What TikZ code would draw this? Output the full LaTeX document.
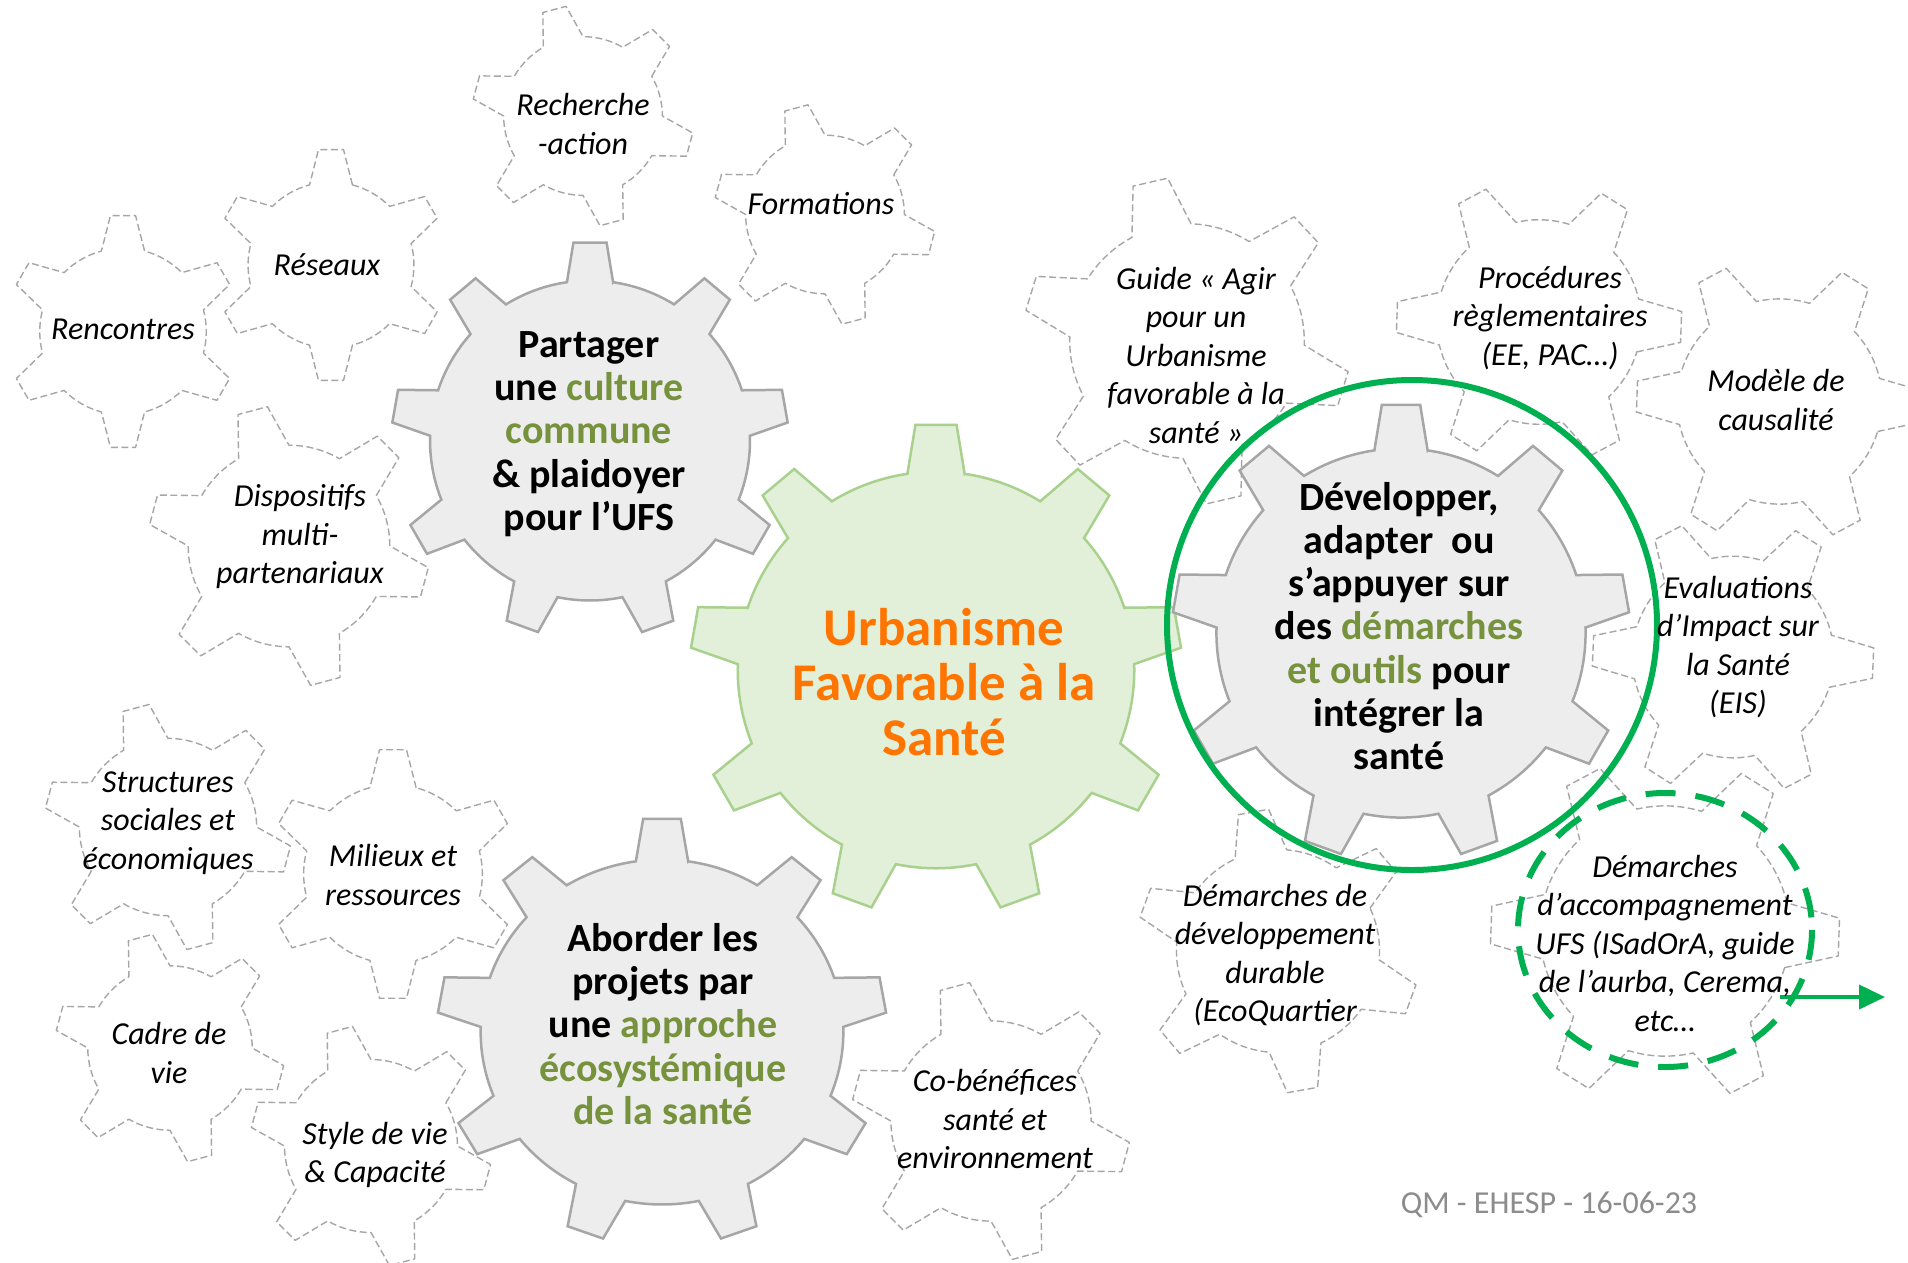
\documentclass[tikz,border=0pt]{standalone}
\usepackage{fontspec}
\setmainfont{Carlito}
\usetikzlibrary{arrows.meta}
\definecolor{olivetxt}{RGB}{118,146,60}
\definecolor{orangetxt}{RGB}{255,117,0}
\definecolor{gearfill}{RGB}{237,237,237}
\definecolor{gearline}{RGB}{166,166,166}
\definecolor{corefill}{RGB}{226,240,217}
\definecolor{coreline}{RGB}{169,209,142}
\definecolor{dashgray}{RGB}{166,166,166}
\definecolor{brightgreen}{RGB}{0,176,80}
\definecolor{footgray}{RGB}{140,140,140}
% gear with 9 teeth: cx cy rx ry rot style
\newcommand\gearnine[6]{%
  \begin{scope}[shift={(#1,#2)},xscale=#3,yscale=-#4]
    \draw[#6] ({#5-8.3}:0.806) \foreach \k in {0,...,8}{
      -- ({#5+40*\k-4.8}:1) -- ({#5+40*\k+4.8}:1) -- ({#5+40*\k+8.3}:0.806)
      arc[start angle={#5+40*\k+8.3}, end angle={#5+40*\k+31.7}, radius=0.806]} -- cycle;
  \end{scope}}
% gear with 6 teeth: cx cy r rot style
\newcommand\gearsix[5]{%
  \begin{scope}[shift={(#1,#2)},xscale=#3,yscale=-#3]
    \draw[#5] ({#4-15}:0.715) \foreach \k in {0,...,5}{
      -- ({#4+60*\k-6.2}:1) -- ({#4+60*\k+6.2}:1) -- ({#4+60*\k+15}:0.715)
      arc[start angle={#4+60*\k+15}, end angle={#4+60*\k+45}, radius=0.715]} -- cycle;
  \end{scope}}
\begin{document}
\begin{tikzpicture}[x=1pt,y=-1pt,
  dgear/.style={draw=dashgray, line width=1.4pt, dash pattern=on 7pt off 3.5pt, line join=round},
  ggear/.style={draw=gearline, fill=gearfill, line width=2.5pt, line join=miter},
  cgear/.style={draw=coreline, fill=corefill, line width=2.5pt, line join=miter},
  lab/.style={font=\fontsize{32}{38.5}\selectfont\itshape, align=center, inner sep=0pt, text=black},
  biglab/.style={font=\fontsize{40}{43.2}\selectfont\bfseries, align=center, inner sep=0pt, text=black},
  corelab/.style={font=\fontsize{53}{55}\selectfont\bfseries, align=center, inner sep=0pt, text=orangetxt},
  gcirc/.style={draw=brightgreen, line width=6pt},
  gdash/.style={draw=brightgreen, line width=6pt, dash pattern=on 30pt off 20pt},
  garrow/.style={draw=brightgreen, line width=4pt, -{Triangle[length=26pt,width=24pt]}}
]
\useasboundingbox (0,0) rectangle (1908,1262);
\fill[white] (0,0) rectangle (1908,1262);

% dashed gears
\gearsix{123}{331.5}{116.5}{90}{dgear}
\gearsix{331}{265}{116}{90}{dgear}
\gearsix{583}{116}{111}{45}{dgear}
\gearsix{825}{214.5}{111}{45}{dgear}
\gearsix{289}{546}{141}{45}{dgear}
\gearsix{168}{827}{124}{45}{dgear}
\gearsix{393}{874}{125}{90}{dgear}
\gearsix{170}{1048}{115}{45}{dgear}
\gearsix{371}{1146}{121}{45}{dgear}
\gearsix{991}{1121}{140}{45}{dgear}
\gearsix{1187}{341}{164}{43}{dgear}
\gearsix{1539}{322}{143}{-2}{dgear}
\gearsix{1779.5}{401.5}{143.5}{-2}{dgear}
\gearsix{1733}{657}{141}{-2.5}{dgear}
\gearsix{1665}{931}{175}{-2}{dgear}
\gearsix{1278}{951}{142}{40}{dgear}

% solid gears
\gearnine{936}{670}{246}{246}{90}{cgear}
\gearnine{590}{440.5}{198.5}{198.5}{90}{ggear}
\gearnine{1401}{633}{229}{229}{90}{ggear}
\gearnine{662}{1032}{225}{214}{90}{ggear}

% green circles
\draw[gcirc] (1412,625) circle[radius=245];
\draw[gdash] (1665,930) ellipse[x radius=147, y radius=137];
\coordinate (arrS) at (1780,997);
\coordinate (arrE) at (1885,997);
\draw[garrow] (arrS) -- (arrE);

% labels of dashed gears
\node[lab] (recherche) at (583,124) {Recherche\\-action};
\node[lab] (formations) at (821,204) {Formations};
\node[lab] (reseaux) at (327,265) {Réseaux};
\node[lab] (rencontres) at (123,329) {Rencontres};
\node[lab] (dispositifs) at (300,537) {Dispositifs\\multi-\\partenariaux};
\node[lab] (guide) at (1196,355) {Guide « Agir\\pour un\\Urbanisme\\favorable à la\\santé »};
\node[lab] (procedures) at (1550,318) {Procédures\\règlementaires\\(EE, PAC…)};
\node[lab] (modele) at (1776,400) {Modèle de\\causalité};
\node[lab] (evaluations) at (1738,647) {Evaluations\\d’Impact sur\\la Santé\\(EIS)};
\node[lab] (accomp) at (1665,943) {Démarches\\d’accompagnement\\UFS (ISadOrA, guide\\de l’aurba, Cerema,\\etc…};
\node[lab] (durable) at (1275,955) {Démarches de\\développement\\durable\\(EcoQuartier};
\node[lab] (structures) at (168,823) {Structures\\sociales et\\économiques};
\node[lab] (milieux) at (393,875) {Milieux et\\ressources};
\node[lab] (cadre) at (169,1053) {Cadre de\\vie};
\node[lab] (style) at (375,1155) {Style de vie\\\& Capacité};
\node[lab] (cobenef) at (995,1119) {Co-bénéfices\\santé et\\environnement};

% labels of solid gears
\node[biglab] (partager) at (589,434) {Partager\\une \textcolor{olivetxt}{culture}\\\textcolor{olivetxt}{commune}\\\& plaidoyer\\pour l’UFS};
\node[corelab] (core) at (944,682) {Urbanisme\\Favorable à la\\Santé};
\node[biglab] (developper) at (1399,626) {Développer,\\adapter~ ou\\s’appuyer sur\\des \textcolor{olivetxt}{démarches}\\\textcolor{olivetxt}{et outils} pour\\intégrer la\\santé};
\node[biglab] (aborder) at (663,1024) {Aborder les\\projets par\\une \textcolor{olivetxt}{approche}\\\textcolor{olivetxt}{écosystémique}\\\textcolor{olivetxt}{de la santé}};

\node[font=\fontsize{32}{38}\selectfont, text=footgray, inner sep=0pt] (footer) at (1549,1205) {QM - EHESP - 16-06-23};
\end{tikzpicture}
\end{document}
